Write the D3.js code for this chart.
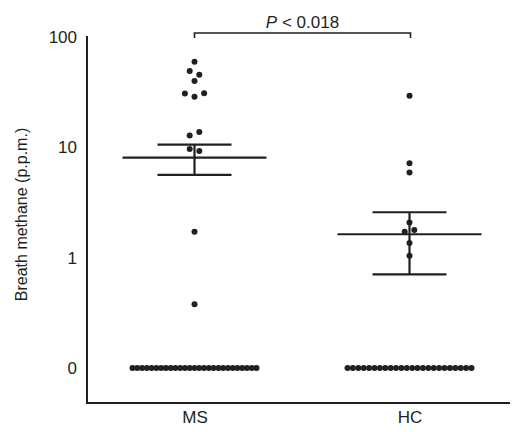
<!DOCTYPE html>
<html>
<head>
<meta charset="utf-8">
<script src="https://cdn.jsdelivr.net/npm/d3@7"></script>
<style>
  html, body { margin: 0; padding: 0; background: #fff; }
  svg { display: block; font-family: "Liberation Sans", Arial, Helvetica, sans-serif; }
</style>
</head>
<body>
<div id="chart"></div>
<script>
// ---- data ----
const groups = ["MS", "HC"];
// non-zero breath methane values (p.p.m.)
const msValues = [59.8, 49.3, 45.6, 40.0, 30.7, 28.8, 30.9, 12.8, 13.8, 9.67, 9.27, 1.72, 0.378];
const hcValues = [29.4, 7.17, 5.9, 2.08, 1.72, 1.78, 1.36, 1.04];
const zeroCounts = [27, 24];          // subjects with 0 p.p.m. (MS, HC)
const means = [8.07, 1.63];
const seUpper = [10.57, 2.58];
const seLower = [5.62, 0.707];
const yTickValues = [0.1, 1, 10, 100];
const yTickLabels = ["0", "1", "10", "100"];
const pLabel = { italic: "P", rest: " < 0.018" };
const yTitle = "Breath methane (p.p.m.)";

// ---- layout ----
const W = 513, H = 432;
const axisX = 87, axisBottom = 403;
const ink = "#231f20";
const dotR = 3;
const fs = 17;

const svg = d3.select("#chart").append("svg")
  .attr("width", W).attr("height", H);

const x = d3.scalePoint().domain(groups).range([axisX, 517]).padding(0.5);
const y = d3.scaleLog().domain([0.1, 100]).range([368, 37]);
const yPos = v => v > 0 ? y(v) : y(0.1);

// Y axis
const yAxis = d3.axisLeft(y).tickValues(yTickValues)
  .tickFormat((d, i) => yTickLabels[i]).tickSize(0).tickPadding(10);
const gy = svg.append("g").attr("transform", `translate(${axisX},0)`).call(yAxis);
gy.select(".domain").remove();
gy.selectAll("text").attr("font-size", fs).attr("fill", ink)
  .attr("font-family", "Liberation Sans, Arial, sans-serif");
svg.append("line").attr("x1", axisX).attr("x2", axisX)
  .attr("y1", y(100) - 1).attr("y2", axisBottom)
  .attr("stroke", ink).attr("stroke-width", 2);

// X axis
const xAxis = d3.axisBottom(x).tickSize(0).tickPadding(8);
const gx = svg.append("g").attr("transform", `translate(0,${axisBottom})`).call(xAxis);
gx.select(".domain").remove();
gx.selectAll("text").attr("font-size", fs).attr("fill", ink)
  .attr("font-family", "Liberation Sans, Arial, sans-serif");
svg.append("line").attr("x1", axisX - 1).attr("x2", 510)
  .attr("y1", axisBottom).attr("y2", axisBottom)
  .attr("stroke", ink).attr("stroke-width", 2);

// Y title
svg.append("text")
  .attr("transform", `translate(23,${(y(100) + y(0.1)) / 2 + 12}) rotate(-90)`)
  .attr("text-anchor", "middle").attr("dominant-baseline", "middle")
  .attr("font-size", 16).attr("fill", ink).text(yTitle);

// ---- beeswarm-like layout (Prism style rows) ----
function layout(values, zeros, maxWidth) {
  const pts = values.map(v => ({ v, py: yPos(v) }));
  for (let i = 0; i < zeros; i++) pts.push({ v: 0, py: yPos(0) });
  const groupsArr = [];
  const sorted = pts.slice().sort((a, b) => a.py - b.py);
  let cur = [];
  sorted.forEach(p => {
    if (cur.length && p.py - cur[0].py >= 6) { groupsArr.push(cur); cur = []; }
    cur.push(p);
  });
  if (cur.length) groupsArr.push(cur);
  groupsArr.forEach(g => {
    const n = g.length;
    const s = n > 1 ? Math.min(9.6, maxWidth / (n - 1)) : 0;
    g.sort((a, b) => pts.indexOf(a) - pts.indexOf(b));
    g.forEach((p, i) => { p.dx = (i - (n - 1) / 2) * s; });
  });
  return pts;
}

const allVals = [msValues, hcValues];
groups.forEach((g, gi) => {
  const cx = x(g);
  const pts = layout(allVals[gi], zeroCounts[gi], 124);
  svg.append("g").selectAll("circle").data(pts).join("circle")
    .attr("cx", d => cx + d.dx).attr("cy", d => d.py)
    .attr("r", dotR).attr("fill", ink);

  // mean and SE bars
  const lw = 2.2;
  svg.append("line").attr("x1", cx - 72).attr("x2", cx + 72)
    .attr("y1", y(means[gi])).attr("y2", y(means[gi]))
    .attr("stroke", ink).attr("stroke-width", lw);
  svg.append("line").attr("x1", cx).attr("x2", cx)
    .attr("y1", y(seUpper[gi])).attr("y2", y(seLower[gi]))
    .attr("stroke", ink).attr("stroke-width", lw);
  [seUpper[gi], seLower[gi]].forEach(v => {
    svg.append("line").attr("x1", cx - 37).attr("x2", cx + 37)
      .attr("y1", y(v)).attr("y2", y(v))
      .attr("stroke", ink).attr("stroke-width", lw);
  });
});

// significance bracket
const bx1 = x("MS"), bx2 = x("HC") + 1, by = 33;
svg.append("path")
  .attr("d", `M${bx1},${by + 5}V${by}H${bx2}V${by + 5}`)
  .attr("fill", "none").attr("stroke", ink).attr("stroke-width", 1.6);
const pt = svg.append("text").attr("x", (bx1 + bx2) / 2).attr("y", 28)
  .attr("text-anchor", "middle").attr("font-size", fs).attr("fill", ink);
pt.append("tspan").attr("font-style", "italic").text(pLabel.italic);
pt.append("tspan").text(pLabel.rest);
</script>
</body>
</html>
